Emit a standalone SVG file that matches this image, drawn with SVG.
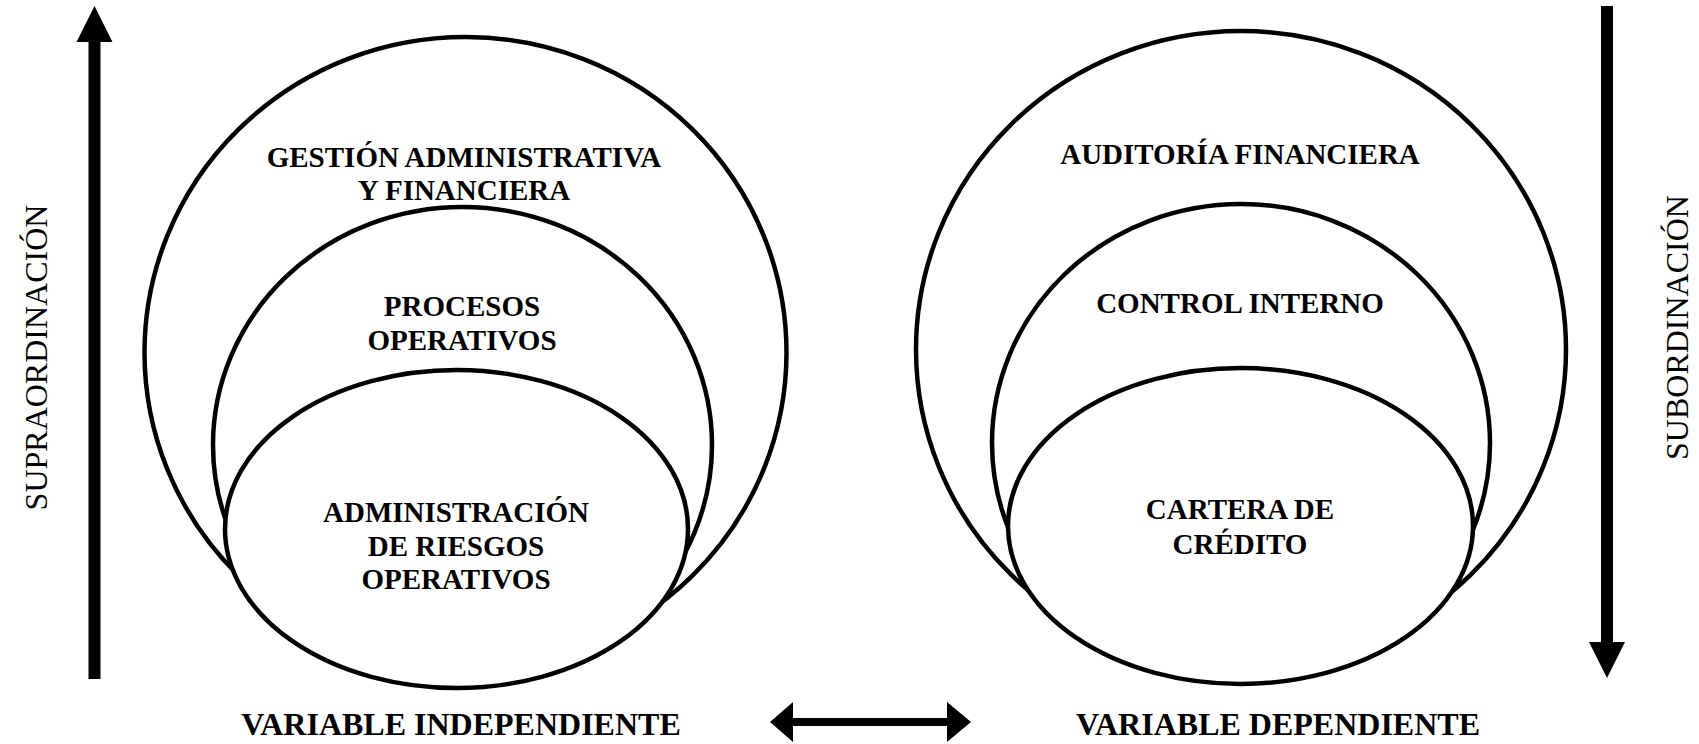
<svg xmlns="http://www.w3.org/2000/svg" width="1699" height="744" viewBox="0 0 1699 744">
<style>
.sh{fill:#fff;stroke:#000;stroke-width:4.5}
.t{font-family:"Liberation Serif","Times New Roman",serif;font-weight:bold;font-size:29px;fill:#000;text-anchor:middle}
.b{font-family:"Liberation Serif","Times New Roman",serif;font-weight:bold;font-size:32px;fill:#000;text-anchor:middle}
.v{font-family:"Liberation Serif","Times New Roman",serif;font-size:32px;fill:#000;text-anchor:middle}
.ar{fill:#000}
</style>
<rect width="1699" height="744" fill="#fff"/>
<g id="independiente">
<g id="gestion"><ellipse class="sh" cx="465.5" cy="352.5" rx="321" ry="315.5"/>
<text class="t" x="464" y="167">GESTIÓN ADMINISTRATIVA</text><text class="t" x="464" y="200">Y FINANCIERA</text></g>
<g id="procesos"><ellipse class="sh" cx="462.5" cy="445" rx="249.5" ry="238"/>
<text class="t" x="462" y="316">PROCESOS</text><text class="t" x="462" y="350">OPERATIVOS</text></g>
<g id="riesgos"><ellipse class="sh" cx="456.5" cy="529" rx="231.5" ry="159"/>
<text class="t" x="456" y="522">ADMINISTRACIÓN</text><text class="t" x="456" y="556">DE RIESGOS</text><text class="t" x="456" y="589">OPERATIVOS</text></g>
</g>
<g id="dependiente">
<g id="auditoria"><ellipse class="sh" cx="1241" cy="349.5" rx="325" ry="318.5"/>
<text class="t" x="1240" y="164">AUDITORÍA FINANCIERA</text></g>
<g id="control"><ellipse class="sh" cx="1241" cy="443" rx="249" ry="239"/>
<text class="t" x="1240" y="313">CONTROL INTERNO</text></g>
<g id="cartera"><ellipse class="sh" cx="1240.5" cy="526" rx="232.5" ry="158"/>
<text class="t" x="1240" y="519">CARTERA DE</text><text class="t" x="1240" y="554">CRÉDITO</text></g>
</g>
<g id="labels">
<text class="v" transform="translate(47,357.5) rotate(-90)">SUPRAORDINACIÓN</text>
<text class="v" transform="translate(1688,327.5) rotate(-90)">SUBORDINACIÓN</text>
<text class="b" x="461" y="735">VARIABLE INDEPENDIENTE</text>
<text class="b" x="1278" y="735">VARIABLE DEPENDIENTE</text>
</g>
<g id="connectors">
<polygon class="ar" points="94.5,6 112.5,42 100.5,42 100.5,679 88.5,679 88.5,42 76.5,42"/>
<polygon class="ar" points="1607,678 1625,642 1613,642 1613,6 1601,6 1601,642 1589,642"/>
<polygon class="ar" points="770,722 793,702 793,718 947,718 947,702 971,722 947,742 947,726 793,726 793,742"/>
</g>
</svg>
